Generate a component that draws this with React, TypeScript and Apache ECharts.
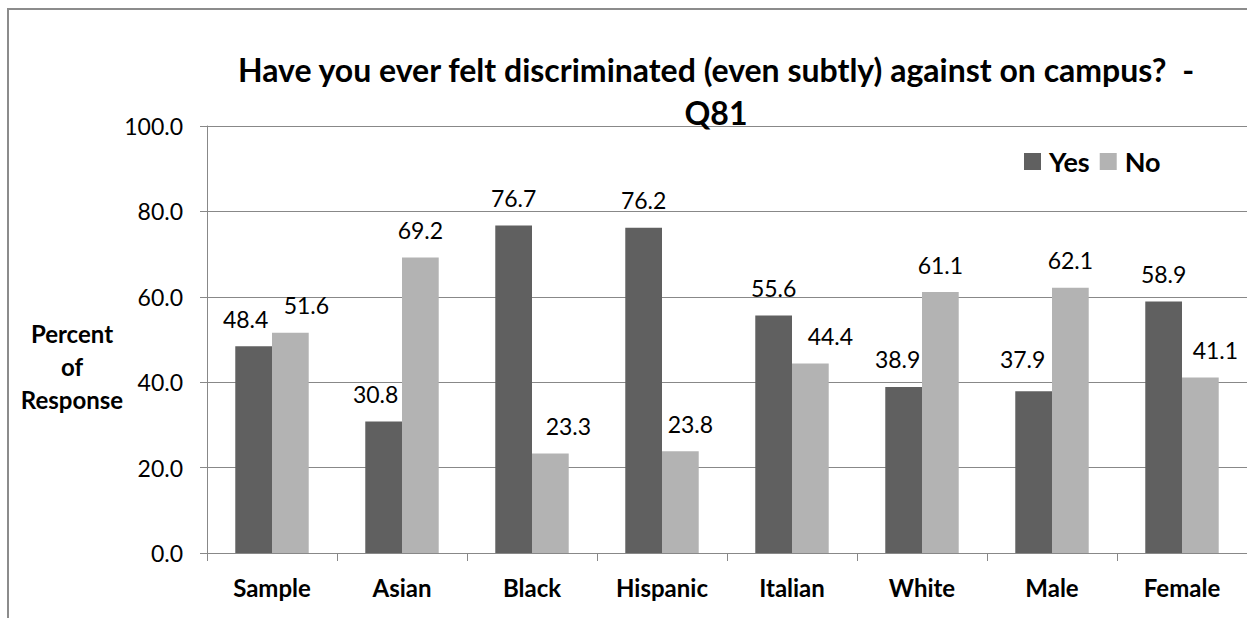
import React, { useEffect, useRef } from "react";
import * as echarts from "echarts";

const categories = ["Sample", "Asian", "Black", "Hispanic", "Italian", "White", "Male", "Female"];
const yesValues = [48.4, 30.8, 76.7, 76.2, 55.6, 38.9, 37.9, 58.9];
const noValues = [51.6, 69.2, 23.3, 23.8, 44.4, 61.1, 62.1, 41.1];
const yTicks = [0, 20, 40, 60, 80, 100];

// manual label nudges as in the original (style only)
const yesLabelOffsets: [number, number][] = [[-8, 0], [-8, 0], [0, 0], [0, 0], [0, 0], [-6, 0], [-11, -5], [0, 0]];
const noLabelOffsets: [number, number][] = [[16, 0], [0, 0], [18, 0], [10, 0], [20, 0], [0, 0], [0, 0], [15, 0]];

const FONT = "Lato";

export default function App() {
  const ref = useRef<HTMLDivElement>(null);
  useEffect(() => {
    if (!ref.current) return;
    const chart = echarts.init(ref.current, null, { renderer: "svg" });
    const labelStyle = { show: true, position: "top", distance: 16, fontSize: 23, fontFamily: FONT, color: "#000" };
    chart.setOption({
      animation: false,
      backgroundColor: "#fff",
      title: {
        text: "Have you ever felt discriminated (even subtly) against on campus?  -\nQ81",
        left: 716,
        top: 48,
        padding: 0,
        textAlign: "center",
        textStyle: { fontFamily: FONT, fontWeight: "bold", fontSize: 32, lineHeight: 43, color: "#000" },
      },
      legend: {
        data: ["Yes", "No"],
        left: 1024,
        top: 148,
        padding: 0,
        itemWidth: 17,
        itemHeight: 17,
        itemGap: 10,
        icon: "rect",
        textStyle: { fontFamily: FONT, fontWeight: "bold", fontSize: 27, color: "#000", padding: [0, 0, 0, 3] },
      },
      grid: { left: 207, top: 126, right: -7, bottom: 65, containLabel: false },
      xAxis: {
        type: "category",
        data: categories,
        axisLine: { lineStyle: { color: "#888", width: 1 } },
        axisTick: { show: true, length: 8, lineStyle: { color: "#888" } },
        axisLabel: { margin: 22, fontFamily: FONT, fontWeight: "bold", fontSize: 24, color: "#000", interval: 0 },
      },
      yAxis: {
        type: "value",
        min: yTicks[0],
        max: yTicks[yTicks.length - 1],
        interval: 20,
        axisLine: { show: true, lineStyle: { color: "#888", width: 1 } },
        axisTick: { show: true, length: 7, lineStyle: { color: "#888" } },
        splitLine: { show: true, lineStyle: { color: "#888", width: 1 } },
        axisLabel: {
          margin: 24,
          fontFamily: FONT,
          fontSize: 23,
          color: "#000",
          formatter: (v: number) => v.toFixed(1),
        },
      },
      graphic: [
        {
          type: "rect",
          shape: { x: 8, y: 9, width: 1400, height: 800 },
          style: { fill: "none", stroke: "#8c8c8c", lineWidth: 2 },
          silent: true,
          z: -1,
        },
        {
          type: "text",
          x: 72,
          y: 317,
          style: {
            text: "Percent\nof\nResponse",
            fontFamily: FONT,
            fontWeight: "bold",
            fontSize: 24,
            lineHeight: 33,
            align: "center",
            textAlign: "center",
            verticalAlign: "top",
            fill: "#000",
          },
        },
      ],
      series: [
        {
          name: "Yes",
          type: "bar",
          barGap: "0%",
          barCategoryGap: "43.5%",
          itemStyle: { color: "#606060" },
          label: { ...labelStyle, formatter: (p: any) => p.value.toFixed(1) },
          data: yesValues.map((v, i) => ({ value: v, label: { offset: yesLabelOffsets[i] } })),
        },
        {
          name: "No",
          type: "bar",
          barGap: "0%",
          barCategoryGap: "43.5%",
          itemStyle: { color: "#b3b3b3" },
          label: { ...labelStyle, formatter: (p: any) => p.value.toFixed(1) },
          data: noValues.map((v, i) => ({ value: v, label: { offset: noLabelOffsets[i] } })),
        },
      ],
    });
    return () => chart.dispose();
  }, []);
  return <div ref={ref} style={{ position: "absolute", left: 0, top: 0, width: 1247, height: 618 }} />;
}
